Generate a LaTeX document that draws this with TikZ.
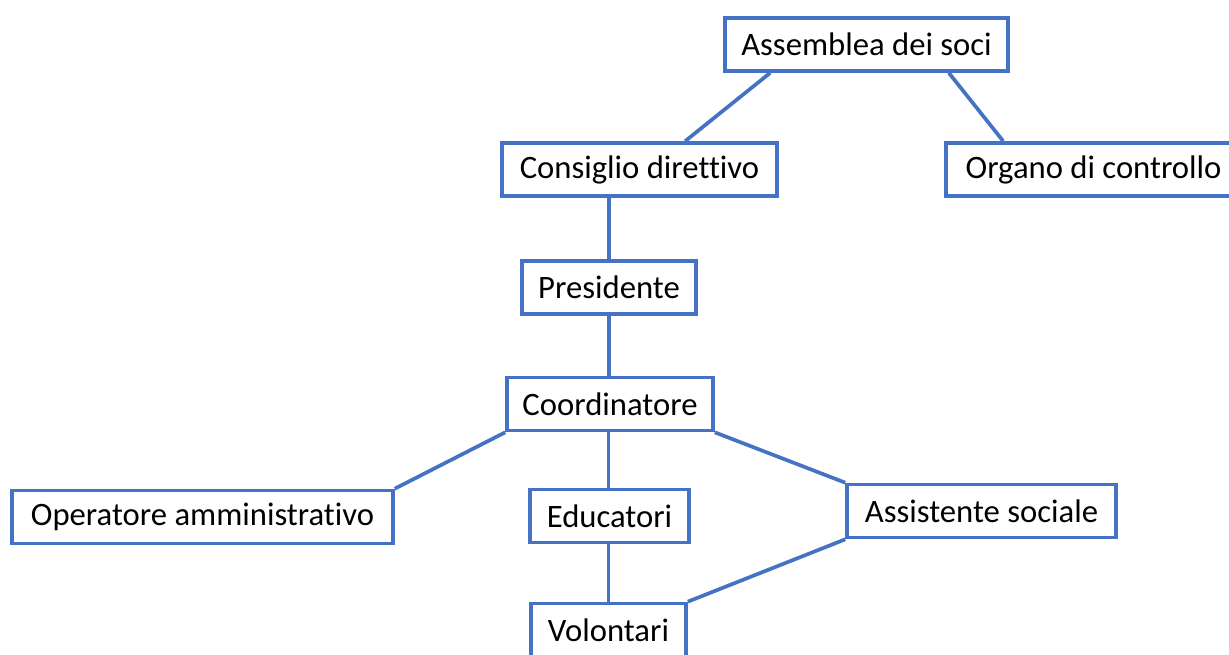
\documentclass[tikz,border=0pt]{standalone}
\usepackage{xcolor}
\usepackage{fontspec}
\setmainfont{Carlito}[Ligatures=NoCommon]
\usepackage{tikz}

\definecolor{orgblue}{RGB}{68,114,196}

\begin{document}
\begin{tikzpicture}[x=0.02cm, y=-0.02cm,
  box/.style={draw=orgblue, line width=2.1pt, fill=white, inner sep=0pt,
    minimum height=1.06cm, font=\fontsize{18.6}{22}\selectfont},
  link/.style={draw=orgblue, line width=2.1pt}]
\clip (0,0) rectangle (1229,655);
\fill[white] (0,0) rectangle (1229,655);

\node[box, minimum width=5.66cm] (ass) at (866.5,44.5) {Assemblea dei soci};
\node[box, minimum width=5.5cm] (cons) at (639.5,169.5) {Consiglio direttivo};
\node[box, minimum width=5.9cm] (org) at (1093.5,169.5) {Organo di controllo};
\node[box, minimum width=3.48cm] (pres) at (609,287.5) {Presidente};
\node[box, minimum width=4.12cm] (coord) at (610,404) {Coordinatore};
\node[box, minimum width=7.62cm] (oper) at (202.5,517) {Operatore amministrativo};
\node[box, minimum width=3.18cm] (edu) at (609.5,516) {Educatori};
\node[box, minimum width=5.38cm] (asoc) at (981.5,511) {Assistente sociale};
\node[box, minimum width=3.1cm] (vol) at (608.5,630) {Volontari};

% top level
\draw[link] ([xshift=0.94cm]ass.south west) -- ([xshift=3.7cm]cons.north west);
\draw[link] ([xshift=-1.22cm]ass.south east) -- ([xshift=1.18cm]org.north west);

% main line
\draw[link] (pres.north |- cons.south) -- (pres.north);
\draw[link] (pres.south) -- (pres.south |- coord.north);

% below coordinatore
\draw[link] (coord.south west) -- (oper.north east);
\draw[link] (vol.north |- coord.south) -- (vol.north |- edu.north);
\draw[link] (coord.south east) -- (asoc.north west);
\draw[link] (vol.north |- edu.south) -- (vol.north);
\draw[link] (asoc.south west) -- (vol.north east);

\end{tikzpicture}
\end{document}
